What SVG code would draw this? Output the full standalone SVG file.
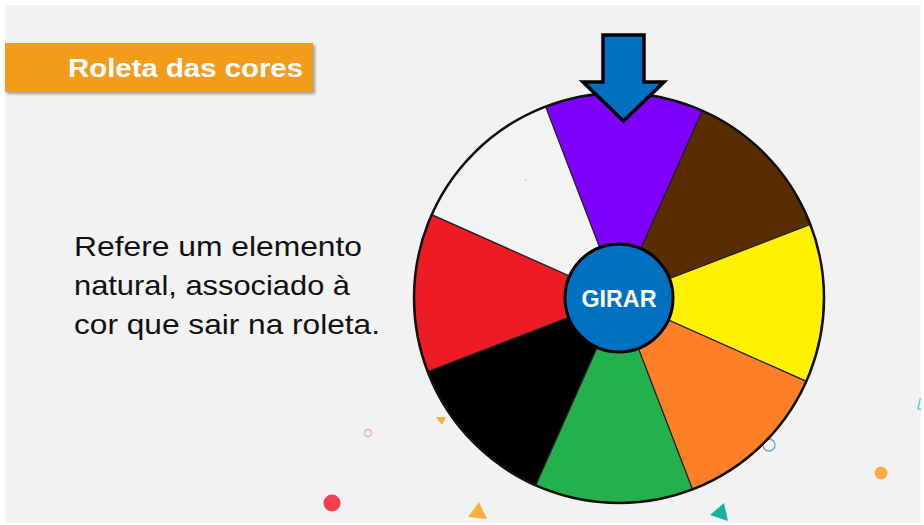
<svg xmlns="http://www.w3.org/2000/svg" width="924" height="525" viewBox="0 0 924 525">
  <defs>
    <style>
      .body { font-family: "Liberation Sans", Arial, sans-serif; font-size: 28px; fill: #111111; }
      .title { font-family: "Liberation Sans", Arial, sans-serif; font-size: 26px; font-weight: bold; fill: #ffffff; }
      .btn { font-family: "Liberation Sans", Arial, sans-serif; font-size: 23px; font-weight: bold; fill: #ffffff; }
      .seg { stroke: #222222; stroke-width: 1.2; }
    </style>
    <filter id="shadow" x="-5%" y="-20%" width="115%" height="150%">
      <feDropShadow dx="2" dy="2" stdDeviation="1.5" flood-color="#000000" flood-opacity="0.35"/>
    </filter>
    <clipPath id="bgclip"><rect x="5" y="5" width="916" height="518"/></clipPath>
  </defs>

  <rect x="0" y="0" width="924" height="525" fill="#ffffff"/>
  <rect x="5" y="5" width="916" height="518" fill="#f2f2f2"/>

  <g id="decorations" clip-path="url(#bgclip)">
    <circle cx="368" cy="433" r="3.5" fill="none" stroke="#f4a3ab" stroke-width="1.3"/>
    <polygon points="436,417 446,417 442,425" fill="#ffab3a"/>
    <circle cx="332" cy="503" r="8.5" fill="#f7404f"/>
    <polygon points="468,517 479,502 487,519" fill="#ffae3b"/>
    <circle cx="769" cy="445" r="6" fill="none" stroke="#6aa3b8" stroke-width="1.3"/>
    <circle cx="881" cy="473" r="6.5" fill="#ffaa40"/>
    <polygon points="710,515 724,503 728,521" fill="#12b5a5"/>
    <rect x="919" y="399" width="12" height="10" fill="none" stroke="#5fd0c8" stroke-width="1.5" transform="rotate(12 919 404)"/>
  </g>

  <g id="title">
    <rect x="5" y="43" width="308" height="49" fill="#f29c1f" filter="url(#shadow)"/>
    <text class="title" x="68" y="77" textLength="235" lengthAdjust="spacingAndGlyphs">Roleta das cores</text>
  </g>

  <g id="instructions">
    <text class="body" x="74" y="256" textLength="288" lengthAdjust="spacingAndGlyphs">Refere um elemento</text>
    <text class="body" x="74" y="295" textLength="276" lengthAdjust="spacingAndGlyphs">natural, associado à</text>
    <text class="body" x="74" y="334" textLength="306" lengthAdjust="spacingAndGlyphs">cor que sair na roleta.</text>
  </g>

  <g id="wheel">
    <g transform="rotate(1.5 619 298)">
      <path id="seg-purple" class="seg" fill="#8000ff" d="M619,298 L540.55,108.6 A205,205 0 0 1 697.45,108.6 Z"/>
      <path id="seg-brown" class="seg" fill="#5a2d00" d="M619,298 L697.45,108.6 A205,205 0 0 1 808.4,219.55 Z"/>
      <path id="seg-yellow" class="seg" fill="#fff200" d="M619,298 L808.4,219.55 A205,205 0 0 1 808.4,376.45 Z"/>
      <path id="seg-orange" class="seg" fill="#ff7f27" d="M619,298 L808.4,376.45 A205,205 0 0 1 697.45,487.4 Z"/>
      <path id="seg-green" class="seg" fill="#22b14c" d="M619,298 L697.45,487.4 A205,205 0 0 1 540.55,487.4 Z"/>
      <path id="seg-black" class="seg" fill="#000000" d="M619,298 L540.55,487.4 A205,205 0 0 1 429.6,376.45 Z"/>
      <path id="seg-red" class="seg" fill="#ed1c24" d="M619,298 L429.6,376.45 A205,205 0 0 1 429.6,219.55 Z"/>
      <path id="seg-white" class="seg" fill="#f3f3f3" d="M619,298 L429.6,219.55 A205,205 0 0 1 540.55,108.6 Z"/>
    </g>
    <circle cx="619" cy="298" r="205" fill="none" stroke="#111111" stroke-width="2.5"/>
    <circle cx="526" cy="180" r="0.8" fill="#d9a0d0"/>
  </g>

  <g id="button">
    <circle cx="619" cy="298" r="54" fill="#0070c0" stroke="#000000" stroke-width="3"/>
    <text class="btn" x="619" y="307" text-anchor="middle" textLength="75" lengthAdjust="spacingAndGlyphs">GIRAR</text>
  </g>

  <g id="pointer">
    <polygon points="603,35 644,35 644,82 664,82 623.5,121 583,82 603,82" fill="#0070c0" stroke="#000000" stroke-width="3.5" stroke-linejoin="miter"/>
  </g>
</svg>
